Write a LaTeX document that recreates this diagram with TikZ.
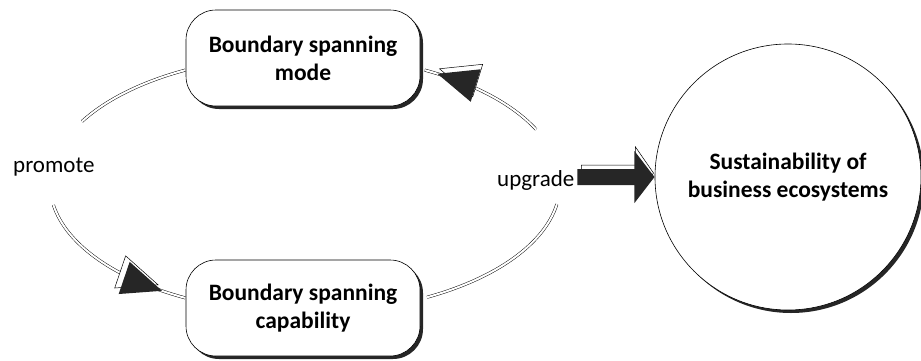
\documentclass[tikz,border=0pt]{standalone}
\usepackage{fontspec}
\setmainfont{Carlito}
\usetikzlibrary{shadows,calc}
\tikzset{
  box/.style={draw=black, line width=0.6pt, rounded corners=30pt, fill=white,
    minimum width=234pt, minimum height=96pt, align=center, inner sep=0pt,
    font=\bfseries\fontsize{23.5}{28}\selectfont,
    drop shadow={shadow xshift=3pt, shadow yshift=-3pt, fill=black, opacity=0.85}},
  goal/.style={draw=black, line width=0.6pt, circle, fill=white, minimum size=266pt,
    inner sep=0pt, align=center, font=\bfseries\fontsize{23.5}{28}\selectfont,
    drop shadow={shadow xshift=3pt, shadow yshift=-3pt, fill=black, opacity=0.85}},
  lbl/.style={inner sep=0pt, anchor=base west, font=\fontsize{23}{28}\selectfont},
  link/.style={draw=black, line width=0.45pt, double=white, double distance=2pt},
  headfill/.style={fill=black!85},
  headline/.style={draw=black, line width=0.5pt, fill=white},
}
\begin{document}
\begin{tikzpicture}[x=1pt, y=1pt]
\useasboundingbox (0,0) rectangle (921,360);
% ellipse centre for the cycle
\coordinate (ec) at (305,176);
% nodes
\node[box] (mode) at (303,302) {Boundary spanning\\mode};
\node[box] (cap) at (303,52) {Boundary spanning\\capability};
\node[goal] (sus) at (788,183) {Sustainability of\\business ecosystems};
\node[lbl] (promote) at (13,188) {promote};
\node[lbl] (upgrade) at (497,174) {upgrade};
% left arc (promote): mode -> capability
\draw[link] ($(ec)+(118:255pt and 129pt)$) arc[start angle=118, end angle=151, x radius=255pt, y radius=129pt];
\draw[link] ($(ec)+(189.4:255pt and 129pt)$) arc[start angle=189.4, end angle=242, x radius=255pt, y radius=129pt];
% right arc (upgrade): capability -> mode
\draw[link] ($(ec)+(-61.4:255pt and 129pt)$) arc[start angle=-61.4, end angle=-9, x radius=255pt, y radius=129pt];
\draw[link] ($(ec)+(25:255pt and 129pt)$) arc[start angle=25, end angle=62, x radius=255pt, y radius=129pt];
% arrowheads
\coordinate (tipL) at ($(ec)+(235.9:255pt and 129pt)$);
\coordinate (tipR) at ($(ec)+(58.7:255pt and 129pt)$);
\draw[headline, shift={($(tipL)+(-4,6)$)}, rotate=-18.8] (0,0) -- (-40,17) -- (-40,-17) -- cycle;
\fill[headfill, shift={(tipL)}, rotate=-18.8] (0,0) -- (-40,17) -- (-40,-17) -- cycle;
\draw[headline, shift={($(tipR)+(2,5)$)}, rotate=162.9] (0,0) -- (-40,17) -- (-40,-17) -- cycle;
\fill[headfill, shift={(tipR)}, rotate=162.9] (0,0) -- (-40,17) -- (-40,-17) -- cycle;
% block arrow upgrade -> sustainability
\coordinate (ba) at ([xshift=3pt]upgrade.east |- sus.west);
\draw[headline, shift={($(ba)+(4,4)$)}] (0,-8) -- (54,-8) -- (54,-26) -- (72,0) -- (54,26) -- (54,8) -- (0,8) -- cycle;
\fill[headfill, shift={(ba)}] (0,-8) -- (57,-8) -- (57,-26) -- (77,0) -- (57,26) -- (57,8) -- (0,8) -- cycle;
\end{tikzpicture}
\end{document}
